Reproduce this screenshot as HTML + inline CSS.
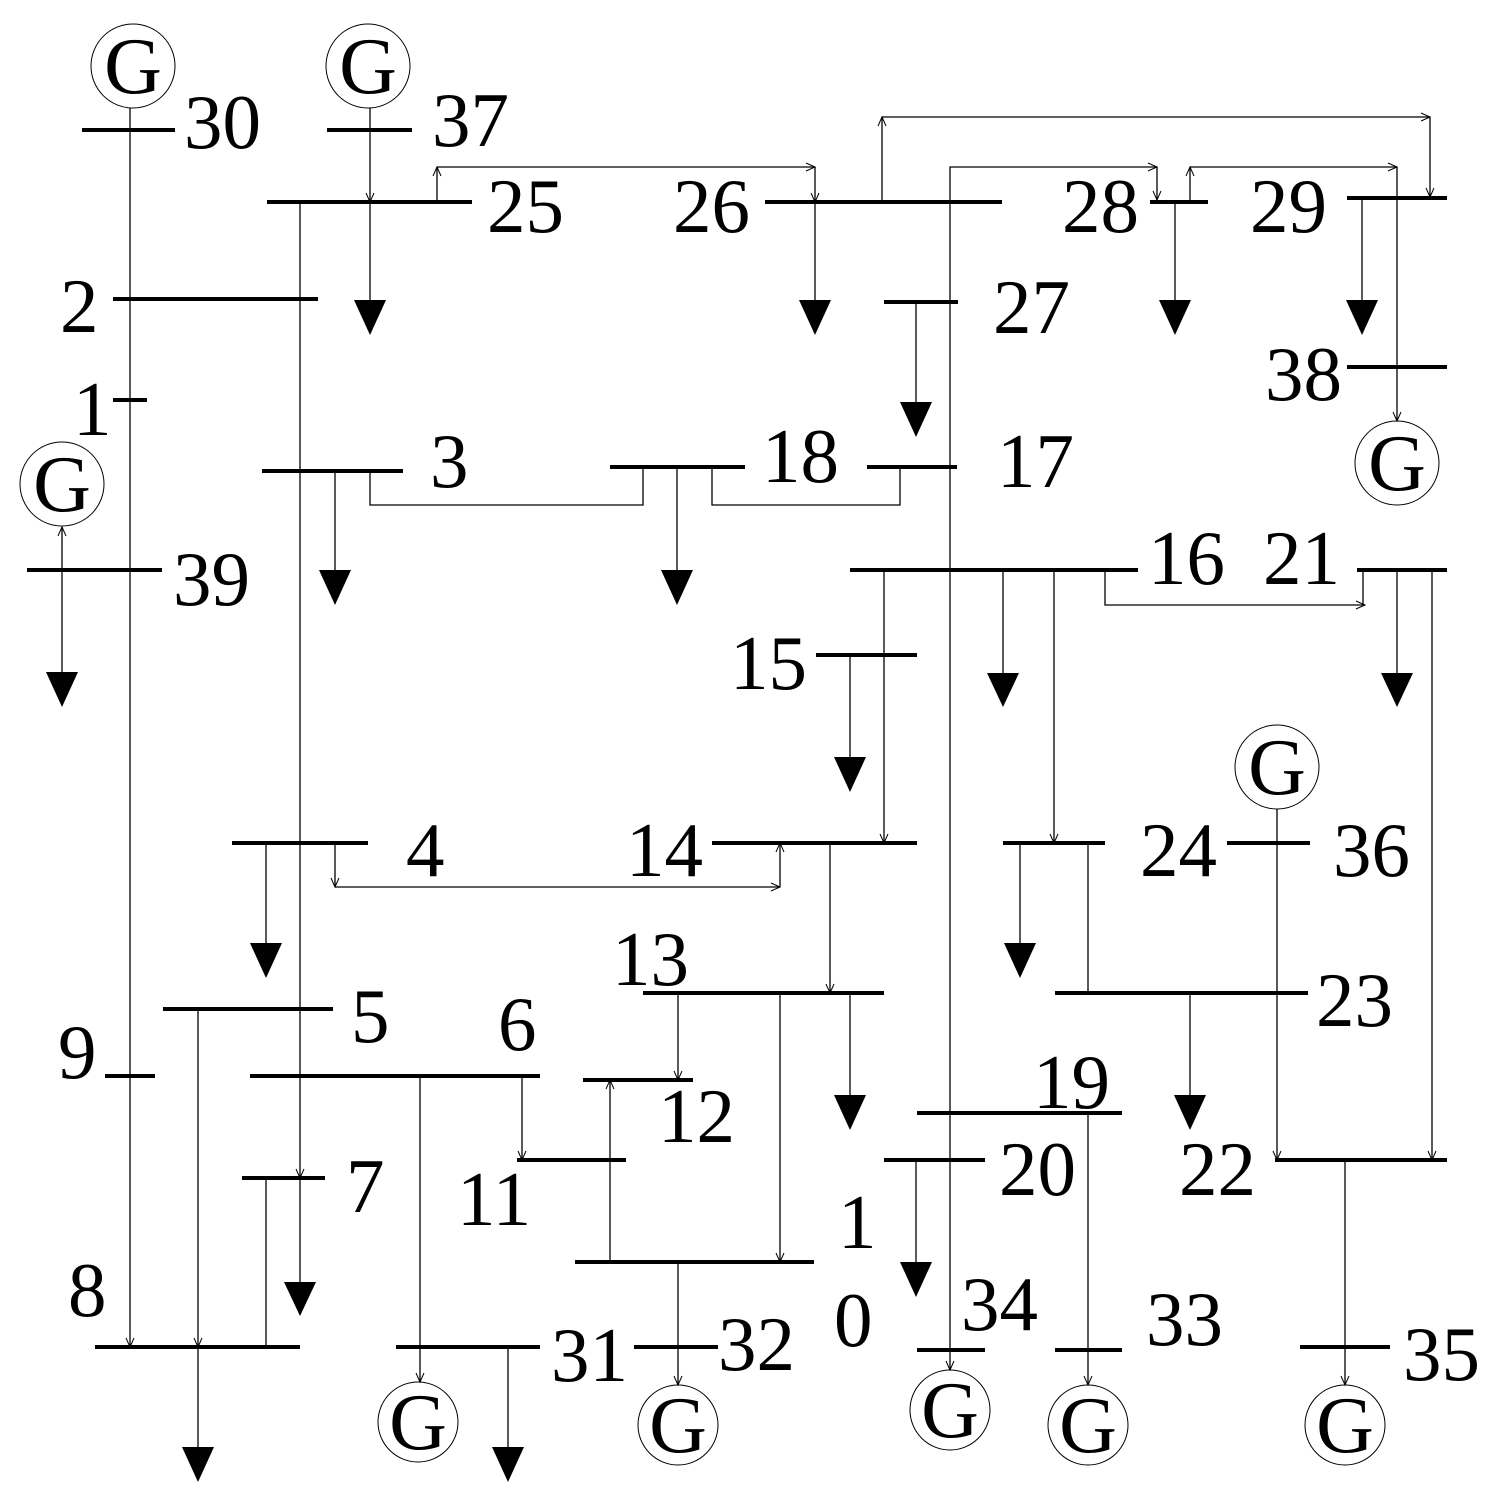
<!DOCTYPE html>
<html><head><meta charset="utf-8"><style>
html,body{margin:0;padding:0;background:#fff}
svg{display:block}
text{font-family:"Liberation Serif",serif;fill:#000}
.l{font-size:77px}
.g{font-size:80px}
</style></head><body>
<svg width="1508" height="1508" viewBox="0 0 1508 1508" xmlns="http://www.w3.org/2000/svg">
<defs>
<marker id="a" markerWidth="12" markerHeight="12" refX="10" refY="5" orient="auto" markerUnits="userSpaceOnUse"><path d="M1,1 L10,5 L1,9" fill="none" stroke="#000" stroke-width="1"/></marker>
</defs>
<g stroke="#000" stroke-width="1.3" fill="none">
<line x1="130" y1="108" x2="130" y2="1347" marker-end="url(#a)"/>
<line x1="370" y1="108" x2="370" y2="202" marker-end="url(#a)"/>
<line x1="370" y1="202" x2="370" y2="300"/>
<line x1="300" y1="202" x2="300" y2="1178" marker-end="url(#a)"/>
<line x1="300" y1="1178" x2="300" y2="1282"/>
<line x1="437" y1="202" x2="437" y2="167" marker-end="url(#a)"/>
<line x1="437" y1="167" x2="815" y2="167" marker-end="url(#a)"/>
<line x1="815" y1="167" x2="815" y2="202" marker-end="url(#a)"/>
<line x1="815" y1="202" x2="815" y2="300"/>
<line x1="882" y1="202" x2="882" y2="117" marker-end="url(#a)"/>
<line x1="882" y1="117" x2="1430" y2="117" marker-end="url(#a)"/>
<line x1="1430" y1="117" x2="1430" y2="197" marker-end="url(#a)"/>
<polyline points="950,1350 950,167 1157,167" marker-end="url(#a)"/>
<line x1="1157" y1="167" x2="1157" y2="200" marker-end="url(#a)"/>
<line x1="950" y1="1350" x2="950" y2="1370" marker-end="url(#a)"/>
<line x1="1175" y1="202" x2="1175" y2="300"/>
<line x1="1190" y1="200" x2="1190" y2="167" marker-end="url(#a)"/>
<line x1="1190" y1="167" x2="1397" y2="167" marker-end="url(#a)"/>
<line x1="1397" y1="167" x2="1397" y2="421" marker-end="url(#a)"/>
<line x1="1362" y1="198" x2="1362" y2="300"/>
<line x1="62" y1="570" x2="62" y2="527" marker-end="url(#a)"/>
<line x1="62" y1="570" x2="62" y2="672"/>
<line x1="335" y1="471" x2="335" y2="570"/>
<polyline points="370,471 370,505 643,505 643,467"/>
<line x1="677" y1="467" x2="677" y2="570"/>
<polyline points="712,467 712,505 900,505 900,467"/>
<line x1="916" y1="302" x2="916" y2="402"/>
<line x1="884" y1="570" x2="884" y2="843" marker-end="url(#a)"/>
<line x1="1003" y1="570" x2="1003" y2="673"/>
<line x1="1054" y1="570" x2="1054" y2="843" marker-end="url(#a)"/>
<polyline points="1105,570 1105,605 1365,605" marker-end="url(#a)"/>
<line x1="1363" y1="570" x2="1363" y2="605"/>
<line x1="1397" y1="570" x2="1397" y2="673"/>
<line x1="1432" y1="570" x2="1432" y2="1160" marker-end="url(#a)"/>
<line x1="850" y1="655" x2="850" y2="757"/>
<line x1="780" y1="887" x2="780" y2="843" marker-end="url(#a)"/>
<line x1="830" y1="843" x2="830" y2="993" marker-end="url(#a)"/>
<line x1="266" y1="843" x2="266" y2="943"/>
<line x1="335" y1="843" x2="335" y2="887" marker-end="url(#a)"/>
<line x1="335" y1="887" x2="780" y2="887" marker-end="url(#a)"/>
<line x1="1020" y1="843" x2="1020" y2="943"/>
<line x1="1088" y1="843" x2="1088" y2="993"/>
<line x1="1277" y1="809" x2="1277" y2="1160" marker-end="url(#a)"/>
<line x1="678" y1="993" x2="678" y2="1080" marker-end="url(#a)"/>
<line x1="780" y1="993" x2="780" y2="1262" marker-end="url(#a)"/>
<line x1="850" y1="993" x2="850" y2="1095"/>
<line x1="1190" y1="993" x2="1190" y2="1095"/>
<line x1="198" y1="1009" x2="198" y2="1347" marker-end="url(#a)"/>
<line x1="198" y1="1347" x2="198" y2="1447"/>
<line x1="420" y1="1076" x2="420" y2="1382" marker-end="url(#a)"/>
<line x1="522" y1="1076" x2="522" y2="1160" marker-end="url(#a)"/>
<line x1="610" y1="1262" x2="610" y2="1080" marker-end="url(#a)"/>
<line x1="266" y1="1178" x2="266" y2="1347"/>
<line x1="678" y1="1262" x2="678" y2="1385" marker-end="url(#a)"/>
<line x1="1088" y1="1113" x2="1088" y2="1385" marker-end="url(#a)"/>
<line x1="916" y1="1160" x2="916" y2="1262"/>
<line x1="1345" y1="1160" x2="1345" y2="1385" marker-end="url(#a)"/>
<line x1="508" y1="1347" x2="508" y2="1447"/>
</g>
<g stroke="#000" stroke-width="1" fill="none">
<circle cx="133" cy="66" r="42"/>
<circle cx="368" cy="66" r="42"/>
<circle cx="62" cy="484" r="42"/>
<circle cx="1397" cy="463" r="42"/>
<circle cx="1277" cy="767" r="42"/>
<circle cx="418" cy="1422" r="40"/>
<circle cx="678" cy="1425" r="40"/>
<circle cx="950" cy="1410" r="40"/>
<circle cx="1088" cy="1425" r="40"/>
<circle cx="1345" cy="1425" r="40"/>
</g>
<g stroke="#000" stroke-width="4">
<line x1="82" y1="130" x2="175" y2="130"/>
<line x1="327" y1="130" x2="412" y2="130"/>
<line x1="267" y1="202" x2="472" y2="202"/>
<line x1="765" y1="202" x2="1002" y2="202"/>
<line x1="1150" y1="202" x2="1208" y2="202"/>
<line x1="1347" y1="198" x2="1447" y2="198"/>
<line x1="1347" y1="367" x2="1447" y2="367"/>
<line x1="113" y1="299" x2="318" y2="299"/>
<line x1="113" y1="400" x2="147" y2="400"/>
<line x1="27" y1="570" x2="162" y2="570"/>
<line x1="262" y1="471" x2="403" y2="471"/>
<line x1="610" y1="467" x2="745" y2="467"/>
<line x1="867" y1="467" x2="957" y2="467"/>
<line x1="884" y1="302" x2="958" y2="302"/>
<line x1="850" y1="570" x2="1138" y2="570"/>
<line x1="1357" y1="570" x2="1447" y2="570"/>
<line x1="816" y1="655" x2="917" y2="655"/>
<line x1="712" y1="843" x2="917" y2="843"/>
<line x1="232" y1="843" x2="368" y2="843"/>
<line x1="1003" y1="843" x2="1105" y2="843"/>
<line x1="1227" y1="843" x2="1310" y2="843"/>
<line x1="643" y1="993" x2="884" y2="993"/>
<line x1="1055" y1="993" x2="1308" y2="993"/>
<line x1="163" y1="1009" x2="333" y2="1009"/>
<line x1="250" y1="1076" x2="540" y2="1076"/>
<line x1="105" y1="1076" x2="155" y2="1076"/>
<line x1="583" y1="1080" x2="693" y2="1080"/>
<line x1="517" y1="1160" x2="626" y2="1160"/>
<line x1="242" y1="1178" x2="325" y2="1178"/>
<line x1="575" y1="1262" x2="814" y2="1262"/>
<line x1="917" y1="1113" x2="1122" y2="1113"/>
<line x1="884" y1="1160" x2="985" y2="1160"/>
<line x1="1275" y1="1160" x2="1447" y2="1160"/>
<line x1="95" y1="1347" x2="300" y2="1347"/>
<line x1="396" y1="1347" x2="540" y2="1347"/>
<line x1="634" y1="1347" x2="718" y2="1347"/>
<line x1="917" y1="1350" x2="985" y2="1350"/>
<line x1="1055" y1="1350" x2="1122" y2="1350"/>
<line x1="1300" y1="1347" x2="1390" y2="1347"/>
</g>
<g fill="#000">
<polygon points="354,300 386,300 370,335"/>
<polygon points="799,300 831,300 815,335"/>
<polygon points="1159,300 1191,300 1175,335"/>
<polygon points="1346,300 1378,300 1362,335"/>
<polygon points="900,402 932,402 916,437"/>
<polygon points="319,570 351,570 335,605"/>
<polygon points="661,570 693,570 677,605"/>
<polygon points="46,672 78,672 62,707"/>
<polygon points="987,673 1019,673 1003,707"/>
<polygon points="1381,673 1413,673 1397,707"/>
<polygon points="834,757 866,757 850,792"/>
<polygon points="250,943 282,943 266,978"/>
<polygon points="1004,943 1036,943 1020,978"/>
<polygon points="834,1095 866,1095 850,1130"/>
<polygon points="1174,1095 1206,1095 1190,1130"/>
<polygon points="284,1282 316,1282 300,1316"/>
<polygon points="900,1262 932,1262 916,1297"/>
<polygon points="182,1447 214,1447 198,1482"/>
<polygon points="492,1447 524,1447 508,1482"/>
</g>
<g class="g" text-anchor="middle">
<text x="133" y="93">G</text>
<text x="368" y="93">G</text>
<text x="62" y="511">G</text>
<text x="1397" y="490">G</text>
<text x="1277" y="794">G</text>
<text x="418" y="1449">G</text>
<text x="678" y="1452">G</text>
<text x="950" y="1437">G</text>
<text x="1088" y="1452">G</text>
<text x="1345" y="1452">G</text>
</g>
<g class="l">
<text x="184" y="148">30</text>
<text x="432" y="146">37</text>
<text x="487" y="232">25</text>
<text x="673" y="232">26</text>
<text x="1062" y="232">28</text>
<text x="1250" y="232">29</text>
<text x="993" y="333">27</text>
<text x="1265" y="400">38</text>
<text x="60" y="332">2</text>
<text x="73" y="435">1</text>
<text x="173" y="605">39</text>
<text x="430" y="487">3</text>
<text x="762" y="482">18</text>
<text x="997" y="487">17</text>
<text x="1148" y="584">16</text>
<text x="1263" y="584">21</text>
<text x="730" y="689">15</text>
<text x="406" y="876">4</text>
<text x="626" y="876">14</text>
<text x="1140" y="876">24</text>
<text x="1333" y="876">36</text>
<text x="612" y="985">13</text>
<text x="1316" y="1026">23</text>
<text x="351" y="1042">5</text>
<text x="498" y="1050">6</text>
<text x="58" y="1078">9</text>
<text x="658" y="1142">12</text>
<text x="1033" y="1108">19</text>
<text x="346" y="1212">7</text>
<text x="457" y="1225">11</text>
<text x="999" y="1195">20</text>
<text x="1179" y="1195">22</text>
<text x="838" y="1248">1</text>
<text x="834" y="1346">0</text>
<text x="68" y="1316">8</text>
<text x="961" y="1330">34</text>
<text x="1146" y="1345">33</text>
<text x="551" y="1381">31</text>
<text x="718" y="1370">32</text>
<text x="1403" y="1380">35</text>
</g>
</svg>
</body></html>
